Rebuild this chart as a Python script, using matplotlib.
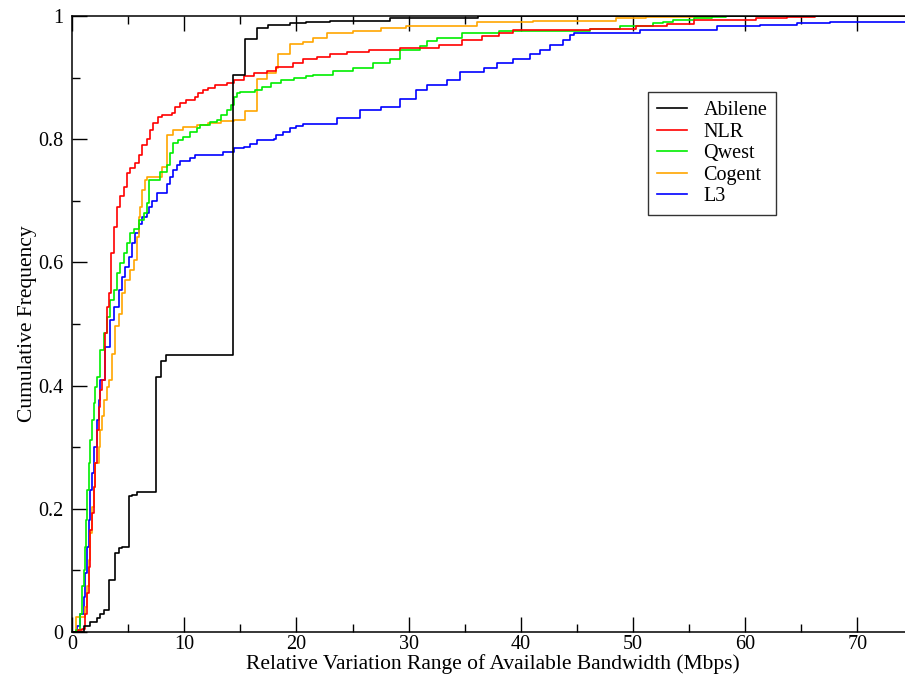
import matplotlib
matplotlib.use("Agg")
import matplotlib.pyplot as plt
from matplotlib.ticker import MultipleLocator

# CDF step points (x in Mbps, y cumulative frequency)
abilene_x = [0, 1.04, 1.63, 2.23, 2.52, 2.82, 3.27, 3.86, 4.16, 4.46, 5.05, 5.35, 5.8, 7.5, 7.9,
             8.4, 14.38, 15.4, 16.5, 17.5, 19.4, 20.9, 23.0, 28.3, 36.2, 80]
abilene_y = [0, 0.009, 0.017, 0.022, 0.03, 0.036, 0.084, 0.128, 0.136, 0.138, 0.22, 0.223, 0.227,
             0.414, 0.44, 0.45, 0.904, 0.962, 0.98, 0.985, 0.988, 0.99, 0.992, 0.996, 1.0, 1.0]

nlr_x = [0, 0.55, 0.89, 1.19, 1.34, 1.49, 1.63, 1.78, 1.93, 2.08, 2.23, 2.38, 2.52, 2.67, 2.97,
         3.12, 3.27, 3.5, 3.71, 4.0, 4.3, 4.6, 4.9, 5.2, 5.64, 5.94, 6.24, 6.65, 6.95, 7.25,
         7.69, 7.99, 8.88, 9.18, 9.63, 10.2, 10.96, 11.26, 11.7, 12.15, 12.74, 13.8, 14.4,
         15.3, 16.2, 17.4, 18.2, 19.7, 20.6, 21.8, 23.0, 24.5, 26.5, 29.2, 32.7, 34.8, 36.5,
         38.1, 39.3, 46.2, 50.3, 53.0, 55.4, 61.0, 63.7, 66.2, 80]
nlr_y = [0, 0.003, 0.005, 0.03, 0.063, 0.106, 0.166, 0.193, 0.236, 0.274, 0.328, 0.366, 0.393,
         0.409, 0.485, 0.528, 0.55, 0.615, 0.658, 0.69, 0.707, 0.723, 0.745, 0.753, 0.761,
         0.774, 0.79, 0.801, 0.815, 0.826, 0.836, 0.839, 0.842, 0.853, 0.858, 0.864, 0.869,
         0.875, 0.88, 0.883, 0.888, 0.892, 0.896, 0.902, 0.907, 0.91, 0.918, 0.923, 0.93,
         0.934, 0.938, 0.942, 0.945, 0.948, 0.953, 0.961, 0.967, 0.973, 0.977, 0.979, 0.983,
         0.987, 0.993, 0.996, 0.998, 1.0, 1.0]

qwest_x = [0, 0.4, 0.74, 0.89, 1.04, 1.13, 1.25, 1.34, 1.49, 1.63, 1.78, 1.93, 2.08, 2.23, 2.52,
           2.82, 3.12, 3.41, 3.71, 4.0, 4.3, 4.6, 4.9, 5.2, 5.5, 5.94, 6.39, 6.68, 6.9, 7.84,
           8.44, 8.73, 9.03, 9.47, 9.92, 10.5, 11.1, 11.4, 12.3, 12.9, 13.3, 13.8, 14.2, 14.45,
           14.7, 15.0, 16.3, 16.9, 17.7, 18.6, 19.8, 20.9, 21.5, 23.3, 25.0, 26.8, 28.3, 29.2,
           31.0, 31.6, 32.5, 34.8, 38.1, 39.3, 46.2, 48.8, 51.8, 52.7, 53.6, 55.4, 57.0, 58.3, 80]
qwest_y = [0, 0.003, 0.03, 0.074, 0.1, 0.138, 0.182, 0.23, 0.274, 0.312, 0.344, 0.371, 0.398,
           0.414, 0.458, 0.485, 0.512, 0.539, 0.555, 0.582, 0.599, 0.615, 0.631, 0.647, 0.655,
           0.669, 0.68, 0.696, 0.734, 0.747, 0.758, 0.777, 0.794, 0.799, 0.804, 0.812, 0.818,
           0.823, 0.828, 0.831, 0.839, 0.847, 0.855, 0.869, 0.875, 0.877, 0.88, 0.885, 0.891,
           0.896, 0.899, 0.902, 0.904, 0.91, 0.915, 0.923, 0.931, 0.945, 0.951, 0.959, 0.964,
           0.973, 0.975, 0.976, 0.979, 0.983, 0.988, 0.99, 0.994, 0.996, 0.998, 1.0, 1.0]

cogent_x = [0, 0.36, 1.19, 1.34, 1.49, 1.63, 1.78, 1.93, 2.08, 2.38, 2.52, 2.67, 2.82, 3.12,
            3.27, 3.56, 3.86, 4.16, 4.46, 4.75, 5.2, 5.5, 5.8, 5.94, 6.09, 6.24, 6.53, 6.7, 8.0,
            8.44, 9.03, 9.92, 11.1, 12.15, 13.3, 14.4, 15.4, 16.5, 17.4, 18.2, 18.4, 19.4, 20.6,
            21.5, 22.7, 25.0, 27.5, 29.8, 36.1, 41.1, 48.5, 51.2, 57.0, 80]
cogent_y = [0, 0.025, 0.041, 0.074, 0.117, 0.16, 0.203, 0.236, 0.274, 0.3, 0.328, 0.35, 0.377,
            0.398, 0.409, 0.452, 0.496, 0.517, 0.55, 0.571, 0.588, 0.604, 0.642, 0.674, 0.69,
            0.718, 0.734, 0.739, 0.755, 0.807, 0.815, 0.82, 0.823, 0.827, 0.83, 0.831, 0.845,
            0.898, 0.907, 0.915, 0.939, 0.954, 0.957, 0.964, 0.973, 0.975, 0.98, 0.984, 0.991,
            0.992, 0.996, 0.998, 1.0, 1.0]

l3_x = [0, 0.45, 0.74, 1.04, 1.19, 1.34, 1.49, 1.63, 1.78, 1.93, 2.23, 2.38, 2.52, 2.97, 3.41,
        3.71, 4.16, 4.46, 4.75, 5.05, 5.35, 5.64, 5.94, 6.24, 6.68, 6.9, 7.13, 7.54, 8.44, 8.73,
        9.03, 9.33, 9.63, 10.5, 10.96, 13.5, 14.4, 15.3, 15.9, 16.5, 18.0, 18.2, 18.8, 19.4,
        20.0, 20.6, 23.6, 25.7, 27.5, 29.2, 30.7, 31.6, 33.4, 34.6, 36.7, 37.9, 39.3, 40.8,
        41.7, 42.6, 43.8, 44.4, 44.7, 50.6, 55.4, 57.5, 61.3, 64.6, 67.6, 80]
l3_y = [0, 0.009, 0.03, 0.057, 0.095, 0.138, 0.182, 0.23, 0.258, 0.3, 0.344, 0.377, 0.409,
        0.463, 0.506, 0.528, 0.555, 0.577, 0.593, 0.609, 0.631, 0.647, 0.663, 0.674, 0.68,
        0.69, 0.70, 0.712, 0.728, 0.739, 0.75, 0.758, 0.764, 0.769, 0.774, 0.78, 0.785, 0.788,
        0.793, 0.799, 0.801, 0.807, 0.812, 0.818, 0.822, 0.825, 0.834, 0.847, 0.853, 0.866,
        0.88, 0.888, 0.896, 0.909, 0.915, 0.923, 0.931, 0.939, 0.945, 0.953, 0.961, 0.969,
        0.973, 0.977, 0.978, 0.983, 0.985, 0.988, 0.991, 0.991]

names = ["Abilene", "NLR", "Qwest", "Cogent", "L3"]
colors = ["black", "#ff0000", "#00ee00", "#ffa500", "#0000ff"]
series = [(abilene_x, abilene_y), (nlr_x, nlr_y), (qwest_x, qwest_y),
          (cogent_x, cogent_y), (l3_x, l3_y)]

xticks = [0, 10, 20, 30, 40, 50, 60, 70]
yticks = [0, 0.2, 0.4, 0.6, 0.8, 1.0]
ytick_labels = ["0", "0.2", "0.4", "0.6", "0.8", "1"]

plt.rcParams["font.family"] = ["Liberation Serif", "DejaVu Serif"]

fig = plt.figure(figsize=(9.05, 6.84), dpi=100)
# x range 0..75 -> right spine sits just past the canvas edge, as in the reference
ax = fig.add_axes([72 / 905, 52 / 684, 841.5 / 905, 616 / 684])

# draw in reverse so Abilene ends up on top like in the original
for (x, y), name, c in reversed(list(zip(series, names, colors))):
    ax.step(x, y, where="post", color=c, lw=1.2, label=name)

ax.set_xlim(0, 75)
ax.set_ylim(0, 1)
ax.set_xticks(xticks)
ax.set_yticks(yticks)
ax.set_yticklabels(ytick_labels)
ax.xaxis.set_minor_locator(MultipleLocator(5))
ax.yaxis.set_minor_locator(MultipleLocator(0.1))
ax.tick_params(which="both", direction="in", top=True, right=False, width=1, labelsize=14.5)
ax.tick_params(which="major", length=11)
ax.tick_params(which="minor", length=6)
ax.tick_params(axis="x", pad=2)
ax.tick_params(axis="y", pad=6)
for s in ax.spines.values():
    s.set_linewidth(1.1)

ax.set_xlabel("Relative Variation Range of Available Bandwidth (Mbps)", fontsize=15.5, labelpad=0)
ax.set_ylabel("Cumulative Frequency", fontsize=15.5, labelpad=1)

h, l = ax.get_legend_handles_labels()
leg = ax.legend(h[::-1], l[::-1], loc="upper left", bbox_to_anchor=(648 / 905, 1 - 92 / 684),
                bbox_transform=fig.transFigure, fontsize=14.5, frameon=True, fancybox=False,
                handlelength=1.5, handletextpad=0.8, labelspacing=0.12, borderpad=0.45,
                borderaxespad=0)
leg.get_frame().set_edgecolor("black")
leg.get_frame().set_linewidth(1.0)

fig.savefig("out.png", dpi=100, facecolor="white")
